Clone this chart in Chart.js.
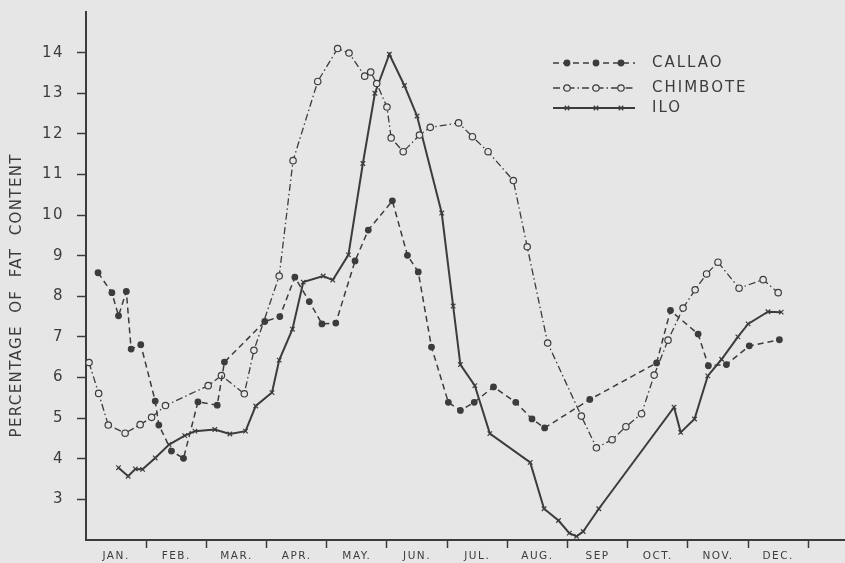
<!DOCTYPE html>
<html>
<head>
<meta charset="utf-8">
<script src="https://cdn.jsdelivr.net/npm/chart.js@4.4.1/dist/chart.umd.min.js"></script>
<style>
  html, body { margin: 0; padding: 0; background: #e6e6e6; }
  #wrap { width: 845px; height: 563px; position: relative; }
</style>
</head>
<body>
<div id="wrap"><canvas id="c"></canvas></div>
<script>
// ---- Data (months measured from 1 Jan: 0 = start of Jan, 12 = end of Dec) ----
const monthLabels = ["JAN.", "FEB.", "MAR.", "APR.", "MAY.", "JUN.", "JUL.", "AUG.", "SEP", "OCT.", "NOV.", "DEC."];
const yTickValues = [3, 4, 5, 6, 7, 8, 9, 10, 11, 12, 13, 14];

const callaoX = [0.20,0.43,0.54,0.67,0.75,0.91,1.15,1.21,1.42,1.62,1.86,2.18,2.30,2.97,3.22,3.47,3.71,3.92,4.15,4.47,4.69,5.09,5.34,5.52,5.74,6.02,6.22,6.45,6.77,7.14,7.41,7.62,8.37,9.48,9.71,10.17,10.34,10.64,11.02,11.52];
const callaoY = [8.58,8.09,7.52,8.12,6.70,6.81,5.42,4.83,4.19,4.01,5.40,5.32,6.38,7.38,7.50,8.47,7.87,7.32,7.34,8.87,9.63,10.35,9.01,8.60,6.75,5.39,5.19,5.39,5.77,5.39,4.98,4.76,5.46,6.36,7.65,7.07,6.29,6.32,6.78,6.93];

const chimboteX = [0.05,0.21,0.37,0.65,0.90,1.09,1.32,2.03,2.25,2.63,2.79,3.21,3.44,3.85,4.18,4.37,4.63,4.73,4.83,5.00,5.07,5.27,5.54,5.72,6.19,6.42,6.68,7.10,7.33,7.67,8.23,8.48,8.74,8.97,9.23,9.44,9.67,9.92,10.12,10.31,10.50,10.85,11.25,11.50];
const chimboteY = [6.37,5.61,4.83,4.63,4.84,5.02,5.31,5.80,6.05,5.60,6.67,8.50,11.34,13.29,14.10,13.99,13.42,13.52,13.24,12.66,11.90,11.56,11.97,12.16,12.27,11.93,11.56,10.85,9.22,6.85,5.05,4.27,4.47,4.79,5.11,6.06,6.92,7.71,8.16,8.55,8.84,8.20,8.41,8.09];

const iloX = [0.54,0.70,0.82,0.94,1.15,1.38,1.64,1.81,2.14,2.39,2.65,2.82,3.09,3.21,3.43,3.61,3.94,4.10,4.36,4.60,4.80,5.04,5.29,5.50,5.91,6.10,6.22,6.46,6.71,7.38,7.61,7.85,8.03,8.15,8.26,8.52,9.77,9.88,10.11,10.33,10.56,10.83,11.00,11.33,11.55];
const iloY = [3.78,3.57,3.75,3.74,4.02,4.35,4.57,4.68,4.72,4.61,4.68,5.30,5.63,6.43,7.19,8.35,8.50,8.40,9.02,11.27,13.00,13.96,13.19,12.44,10.05,7.76,6.32,5.80,4.62,3.91,2.77,2.48,2.17,2.09,2.21,2.77,5.27,4.65,4.98,6.04,6.45,7.00,7.32,7.62,7.61];

const seriesNames = ["CALLAO", "CHIMBOTE", "ILO"];
const yTitle = "PERCENTAGE  OF  FAT  CONTENT";

// ---- Styles ----
const INK = "#3c3c3c";
const BG = "#e6e6e6";
const FONT = "'DejaVu Sans', 'Liberation Sans', sans-serif";
const styles = [
  { dash: [6, 4], width: 1.5, pointStyle: "circle", radius: 2.8, fill: INK },
  { dash: [7, 3, 1.5, 3], width: 1.3, pointStyle: "circle", radius: 3.2, fill: BG },
  { dash: [], width: 2, pointStyle: "crossRot", radius: 3.2, fill: INK }
];

const toPts = (xs, ys) => xs.map((x, i) => ({ x: x, y: ys[i] }));
const allData = [toPts(callaoX, callaoY), toPts(chimboteX, chimboteY), toPts(iloX, iloY)];

const datasets = allData.map((d, i) => ({
  label: seriesNames[i],
  data: d,
  borderColor: INK,
  borderWidth: styles[i].width,
  borderDash: styles[i].dash,
  pointStyle: styles[i].pointStyle,
  pointRadius: styles[i].radius,
  pointBorderWidth: 1.2,
  pointBorderColor: INK,
  pointBackgroundColor: styles[i].fill,
  tension: 0,
  fill: false,
  clip: false
}));

const bgPlugin = {
  id: "bgAndSpacing",
  beforeDraw(chart) {
    const ctx = chart.ctx;
    ctx.save();
    ctx.fillStyle = BG;
    ctx.fillRect(0, 0, chart.width, chart.height);
    ctx.restore();
    ctx.letterSpacing = "1.5px";
  },
  beforeDatasetsDraw(chart) {
    chart.ctx.letterSpacing = "0px";
  }
};

const annoPlugin = {
  id: "titleAndLegend",
  afterDraw(chart) {
    const ctx = chart.ctx;
    // Y axis title
    ctx.save();
    ctx.fillStyle = INK;
    ctx.font = "15px " + FONT;
    ctx.letterSpacing = "0px";
    const w0 = ctx.measureText(yTitle).width;
    const target = 283;
    const sp = (target - w0) / (yTitle.length - 1);
    ctx.letterSpacing = sp.toFixed(2) + "px";
    ctx.translate(17, 296);
    ctx.rotate(-Math.PI / 2);
    ctx.textAlign = "center";
    ctx.textBaseline = "middle";
    ctx.fillText(yTitle, sp / 2, 0);
    ctx.restore();

    // Legend
    const rows = [63, 88, 108];
    const markX = [567, 596, 621];
    seriesNames.forEach((name, i) => {
      const y = rows[i];
      const s = styles[i];
      ctx.save();
      ctx.strokeStyle = INK;
      ctx.lineWidth = s.width;
      ctx.setLineDash(s.dash);
      ctx.beginPath();
      ctx.moveTo(553, y);
      ctx.lineTo(635, y);
      ctx.stroke();
      ctx.setLineDash([]);
      markX.forEach(mx => {
        ctx.fillStyle = s.fill;
        ctx.strokeStyle = INK;
        ctx.lineWidth = 1.2;
        Chart.helpers.drawPoint(ctx, {
          pointStyle: s.pointStyle, radius: s.radius, rotation: 0, borderWidth: 1.2
        }, mx, y);
      });
      ctx.fillStyle = INK;
      ctx.font = "15px " + FONT;
      ctx.letterSpacing = "2px";
      ctx.textAlign = "left";
      ctx.textBaseline = "middle";
      ctx.fillText(name, 652, y);
      ctx.restore();
    });
  }
};

const xTicks = [];
for (let k = 1; k <= 24; k++) xTicks.push(k / 2);

new Chart(document.getElementById("c"), {
  type: "line",
  data: { datasets: datasets },
  plugins: [bgPlugin, annoPlugin],
  options: {
    responsive: true,
    maintainAspectRatio: false,
    animation: false,
    devicePixelRatio: 1,
    layout: { autoPadding: false, padding: { top: 12, right: 0, left: 0, bottom: 0 } },
    plugins: { legend: { display: false }, tooltip: { enabled: false }, title: { display: false } },
    scales: {
      x: {
        type: "linear",
        min: 0,
        max: 12.61,
        afterBuildTicks(scale) { scale.ticks = xTicks.map(v => ({ value: v })); },
        afterFit(scale) {
          scale.height = 23;
          scale.paddingLeft = 0; scale.paddingRight = 0;
          scale.paddingTop = 0; scale.paddingBottom = 0;
        },
        ticks: {
          autoSkip: false,
          maxRotation: 0,
          minRotation: 0,
          padding: 2,
          color: INK,
          font: { family: FONT, size: 10.5 },
          callback(v) {
            const k = Math.round(v * 2);
            return k % 2 === 1 ? monthLabels[(k - 1) / 2] : "";
          }
        },
        grid: {
          drawOnChartArea: false,
          drawTicks: true,
          tickLength: 8,
          tickWidth: 1.5,
          tickColor: (c) => (c.tick && Math.abs(c.tick.value % 1) < 1e-6 ? INK : "rgba(0,0,0,0)")
        },
        border: { display: true, color: INK, width: 2 }
      },
      y: {
        type: "linear",
        min: 2,
        max: 15,
        afterBuildTicks(scale) { scale.ticks = yTickValues.map(v => ({ value: v })); },
        afterFit(scale) {
          scale.width = 86;
          scale.paddingLeft = 0; scale.paddingRight = 0;
          scale.paddingTop = 0; scale.paddingBottom = 0;
        },
        ticks: {
          padding: 13,
          color: INK,
          font: { family: FONT, size: 15 },
          callback(v) { return String(v); }
        },
        grid: {
          drawOnChartArea: false,
          drawTicks: true,
          tickLength: 9,
          tickWidth: 1.5,
          tickColor: INK
        },
        border: { display: true, color: INK, width: 2 }
      }
    }
  }
});
</script>
</body>
</html>
